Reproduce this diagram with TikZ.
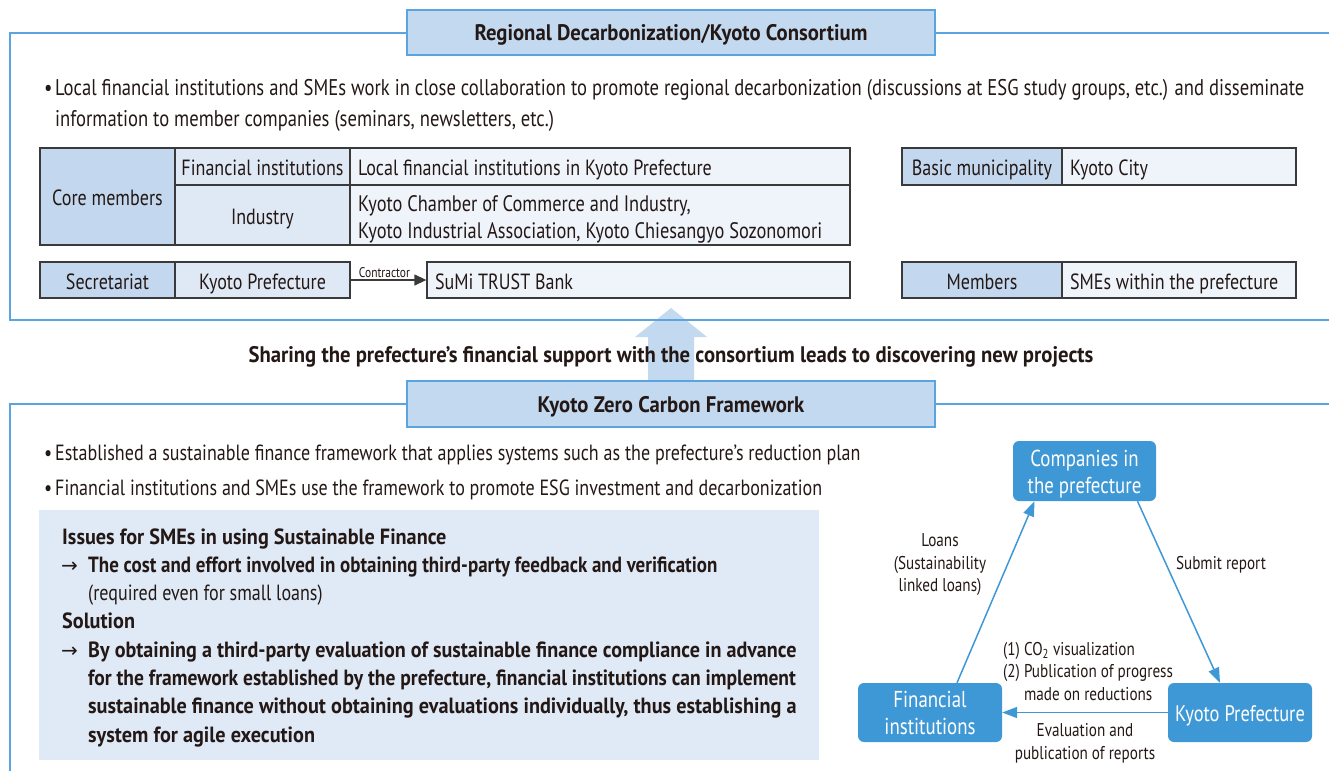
\documentclass[tikz,border=0pt]{standalone}
\usepackage{fontspec}
\usepackage{graphicx}
\setmainfont[FakeStretch=0.82,BoldFeatures={FakeStretch=0.92}]{PT Sans}
\newfontfamily\arrowfont{DejaVu Sans}
\usetikzlibrary{arrows.meta,calc}
\definecolor{frameblue}{HTML}{5AA5E0}
\definecolor{titlefill}{HTML}{C3D9EF}
\definecolor{hdrfill}{HTML}{C3D8EE}
\definecolor{midfill}{HTML}{DFE9F6}
\definecolor{rightfill}{HTML}{EFF4FB}
\definecolor{boxfill}{HTML}{DFEAF6}
\definecolor{celldraw}{HTML}{3A3A3A}
\definecolor{nodeblue}{HTML}{3F98D6}
\definecolor{textc}{HTML}{231815}
\begin{document}
\begin{tikzpicture}[x=1pt,y=-1pt,
  every node/.style={text=textc},
  frame/.style={draw=frameblue,line width=1.3},
  titlebox/.style={draw=frameblue,fill=titlefill,line width=1.3,inner sep=0,
    minimum width=528,minimum height=45,text height=16pt,text depth=0pt,font=\bfseries\fontsize{22.5}{26}\selectfont},
  txt/.style={inner sep=0,anchor=west,text height=15pt,text depth=0pt,font=\fontsize{22}{29}\selectfont},
  ttxt/.style={txt,font=\fontsize{22.7}{29}\selectfont},
  btxt/.style={txt,font=\bfseries\fontsize{22}{29}\selectfont},
  cell/.style={draw=celldraw,line width=1.3,inner sep=0,align=flush center,font=\fontsize{22}{27}\selectfont},
  one/.style={text height=18pt,text depth=0pt},
  hdr/.style={cell,fill=hdrfill},
  mid/.style={cell,fill=midfill},
  rgt/.style={cell,fill=rightfill,align=flush left,inner xsep=8},
  tnode/.style={fill=nodeblue,rounded corners=6,inner sep=0,align=flush center,text=white,font=\fontsize{23}{27}\selectfont},
  tarrow/.style={draw=nodeblue,line width=1.5,-{Triangle[length=15,width=11]}},
  tlbl/.style={inner sep=0,align=flush center,font=\fontsize{18.5}{22.5}\selectfont}
]
\useasboundingbox (0,0) rectangle (1329,771);

% big up arrow
\fill[titlefill] (648,381) -- (648,337) -- (635,337) -- (671,308) -- (707,337) -- (694,337) -- (694,381) -- cycle;

% ---------- top section ----------
\draw[frame] (1329,33) -- (10,33) -- (10,320) -- (1329,320);
\node[titlebox] (t1) at (671,32.5) {Regional Decarbonization/Kyoto Consortium};

\node[ttxt] (b1) at (44,88) {\textbullet};
\node[ttxt] (l1) at (55,88) {Local financial institutions and SMEs work in close collaboration to promote regional decarbonization (discussions at ESG study groups, etc.) and disseminate};
\node[ttxt] (l2) at (55,119) {information to member companies (seminars, newsletters, etc.)};

\node[hdr,one,minimum width=135,minimum height=97] (core) at (107.5,196.5) {Core members};
\node[mid,one,minimum width=175,minimum height=37] (fi) at (262.5,166.5) {Financial institutions};
\node[mid,one,minimum width=175,minimum height=60] (ind) at (262.5,215) {Industry};
\node[rgt,one,minimum width=500,minimum height=37,text width=484] (lfi) at (600,166.5) {Local financial institutions in Kyoto Prefecture};
\node[rgt,minimum width=500,minimum height=60] (kcc) at (600,215) {};
\node[inner sep=0,anchor=west,align=flush left,font=\fontsize{22.4}{27}\selectfont] (kcct) at (358,219.5) {Kyoto Chamber of Commerce and Industry,\\Kyoto Industrial Association, Kyoto Chiesangyo Sozonomori};

\node[hdr,one,minimum width=135,minimum height=36] (sec) at (107.5,280) {Secretariat};
\node[mid,one,minimum width=175,minimum height=36] (kp) at (262.5,280) {Kyoto Prefecture};
\node[rgt,one,minimum width=423,minimum height=36,text width=407] (sumi) at (638.5,280) {SuMi TRUST Bank};
\draw[line width=1.3,celldraw,-{Triangle[length=12,width=11]}] (kp.east) -- (sumi.west)
  node[midway,above=2pt,inner sep=0,xshift=-4,font=\fontsize{14}{16}\selectfont] (ctr) {Contractor};

\node[hdr,one,minimum width=160,minimum height=37] (bm) at (982,166.5) {Basic municipality};
\node[rgt,one,minimum width=234,minimum height=37,text width=218] (kc) at (1179,166.5) {Kyoto City};
\node[hdr,one,minimum width=160,minimum height=36] (mem) at (982,280) {Members};
\node[rgt,one,minimum width=234,minimum height=36,text width=218] (sme) at (1179,280) {SMEs within the prefecture};

% ---------- middle ----------
\node[btxt,anchor=center,font=\bfseries\fontsize{22.5}{29}\selectfont] (share) at (671,355) {Sharing the prefecture’s financial support with the consortium leads to discovering new projects};

% ---------- bottom section ----------
\draw[frame] (1329,404) -- (10,404) -- (10,771);
\node[titlebox,minimum height=46] (t2) at (671,404) {Kyoto Zero Carbon Framework};

\node[txt] (b2) at (44,453) {\textbullet};
\node[txt] (m1) at (55,453) {Established a sustainable finance framework that applies systems such as the prefecture’s reduction plan};
\node[txt] (b3) at (44,488) {\textbullet};
\node[txt] (m2) at (55,488) {Financial institutions and SMEs use the framework to promote ESG investment and decarbonization};

\node[fill=boxfill,inner sep=0,minimum width=780,minimum height=250] (box) at (429,635) {};
\node[btxt] (iss) at (62,537) {Issues for SMEs in using Sustainable Finance};
\node[txt,font=\arrowfont\fontsize{20}{29}\selectfont] (a1) at (61,565) {→};
\node[btxt] (c1) at (88,565) {\scalebox{0.936}[1]{The cost and effort involved in obtaining third-party feedback and verification}};
\node[txt] (c2) at (88,593) {(required even for small loans)};
\node[btxt] (sol) at (62,621) {Solution};
\node[txt,font=\arrowfont\fontsize{20}{29}\selectfont] (a2) at (61,650) {→};
\node[btxt] (s1) at (88,650) {\scalebox{0.994}[1]{By obtaining a third-party evaluation of sustainable finance compliance in advance}};
\node[btxt] (s2) at (88,678) {\scalebox{0.965}[1]{for the framework established by the prefecture, financial institutions can implement}};
\node[btxt] (s3) at (88,706) {sustainable finance without obtaining evaluations individually, thus establishing a};
\node[btxt] (s4) at (88,735) {system for agile execution};

% ---------- triangle ----------
\node[tnode,minimum width=143,minimum height=60,text height=49pt,text depth=4.5pt] (comp) at (1084.5,471) {Companies in\\the prefecture};
\node[tnode,minimum width=144,minimum height=59] (fin) at (930,712.5) {Financial\\institutions};
\node[tnode,one,minimum width=144,minimum height=59,font=\fontsize{22.5}{27}\selectfont] (pref) at (1240,712.5) {Kyoto Prefecture};

\draw[tarrow] ($(fin.north)+(27,0)$) -- ($(comp.south)+(-50,0)$);
\draw[tarrow] ($(comp.south)+(53,0)$) -- ($(pref.north)+(-20,0)$);
\draw[tarrow] (pref.west) -- (fin.east);

\node[tlbl] (loans) at (940,565) {Loans\\(Sustainability\\linked loans)};
\node[tlbl] (sub) at (1221,565) {Submit report};
\node[tlbl,align=flush left,anchor=west] (co2) at (1003,671.5) {(1) CO\textsubscript{2} visualization\\(2) Publication of progress\\\hphantom{(2) }made on reductions};
\node[tlbl] (eval) at (1085,743.5) {Evaluation and\\publication of reports};
\end{tikzpicture}
\end{document}
